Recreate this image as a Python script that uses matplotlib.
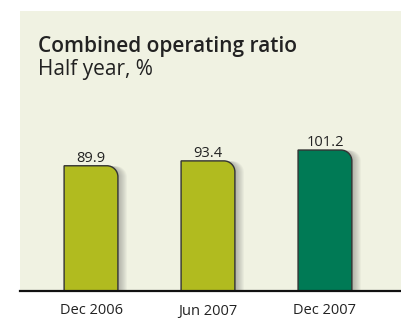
import matplotlib.pyplot as plt
import matplotlib.transforms as mtransforms
from matplotlib.path import Path
from matplotlib.patches import PathPatch

periods = ["Dec 2006", "Jun 2007", "Dec 2007"]
ratios = [89.9, 93.4, 101.2]
bar_colors = ["#b1bb1f", "#b1bb1f", "#007a55"]

plt.rcParams['font.family'] = ['Open Sans', 'DejaVu Sans']

fig = plt.figure(figsize=(4.01, 3.20), dpi=100)
fig.patch.set_facecolor('white')
ax = fig.add_axes([20 / 401, 29 / 320, 381 / 401, 280 / 320])
ax.set_facecolor('#f0f2e2')

x = list(range(len(periods)))
width = 0.46
ax.set_xlim(-0.607, 2.65)
ax.set_ylim(0, 201)

# plain bars first, then swapped for rounded-corner versions
bars = ax.bar(x, ratios, width=width, color=bar_colors)
fig.canvas.draw()
px_x = ax.transData.transform((1, 0))[0] - ax.transData.transform((0, 0))[0]
px_y = ax.transData.transform((0, 1))[1] - ax.transData.transform((0, 0))[1]
r = 11  # corner radius in pixels
rx, ry = r / px_x, r / px_y
k = 0.5523

for b, col in zip(bars, bar_colors):
    b.set_visible(False)
    x0, x1 = b.get_x(), b.get_x() + b.get_width()
    h = b.get_height()
    verts = [(x0, 0), (x0, h), (x1 - rx, h),
             (x1 - rx + k * rx, h), (x1, h - ry + k * ry), (x1, h - ry),
             (x1, 0), (x0, 0)]
    codes = [Path.MOVETO, Path.LINETO, Path.LINETO,
             Path.CURVE4, Path.CURVE4, Path.CURVE4,
             Path.LINETO, Path.CLOSEPOLY]
    path = Path(verts, codes)
    # soft shadow on the right
    for dx in range(1, 10):
        tr = mtransforms.offset_copy(ax.transData, fig=fig, x=dx * 0.72, y=-0.3, units='points')
        ax.add_patch(PathPatch(path, facecolor='#555555', edgecolor='none',
                               alpha=0.05, transform=tr, zorder=1, clip_on=True))
    ax.add_patch(PathPatch(path, facecolor=col, edgecolor='#333333',
                           linewidth=1.0, zorder=2))
    ax.annotate(f"{h:.1f}", (b.get_x() + b.get_width() / 2, h),
                xytext=(0, 3), textcoords='offset points',
                ha='center', va='baseline', fontsize=10.5, color='#222222')

ax.set_xticks(x, periods, fontsize=10.5, color='#222222')
ax.tick_params(axis='x', length=0, pad=9)
ax.set_yticks([])
for s in ['top', 'right', 'left']:
    ax.spines[s].set_visible(False)
ax.spines['bottom'].set_linewidth(1.6)
ax.spines['bottom'].set_color('#111111')
ax.spines['bottom'].set_zorder(5)

fig.text(38 / 401, 1 - 52 / 320, "Combined operating ratio", fontsize=15,
         fontweight='semibold', color='#222222', va='baseline')
fig.text(38 / 401, 1 - 75 / 320, "Half year, %", fontsize=15,
         color='#222222', va='baseline')

fig.savefig('out.png', dpi=100)
